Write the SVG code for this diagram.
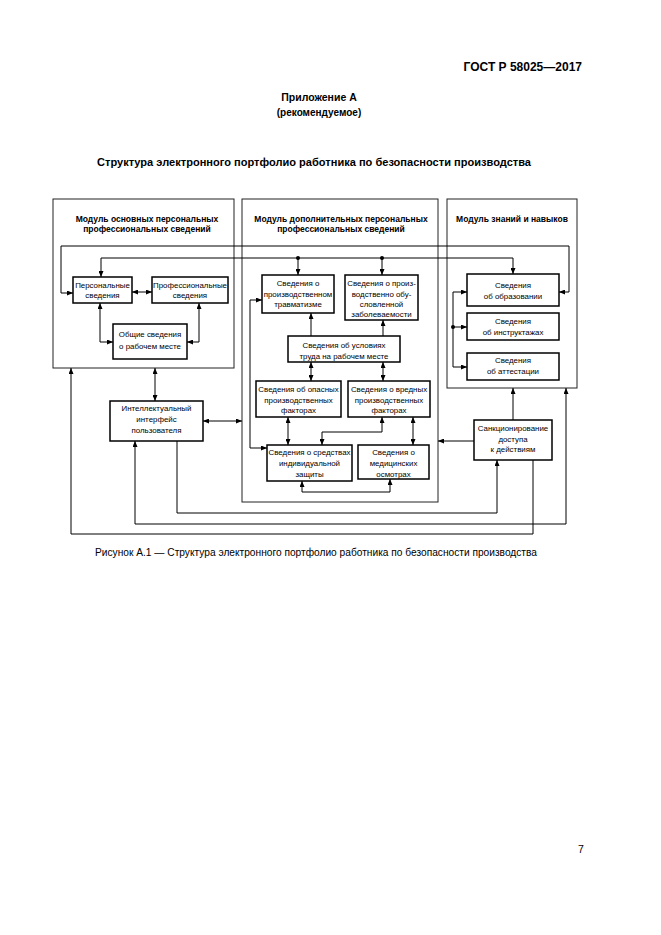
<svg xmlns="http://www.w3.org/2000/svg" width="661" height="935" viewBox="0 0 661 935">
<style>
text{font-family:"Liberation Sans",Arial,sans-serif;fill:#000}
.hd{font-weight:bold}
.mt{font-size:8.5px;font-weight:bold;text-anchor:middle}
.bt{font-size:7.9px;text-anchor:middle}
.mod{fill:#fff;stroke:#222;stroke-width:1}
.box{fill:#fff;stroke:#000;stroke-width:1.5}
.c{fill:none;stroke:#000;stroke-width:1}
.bi{marker-start:url(#a);marker-end:url(#a)}
.one{marker-end:url(#a)}
</style>
<defs>
<marker id="a" viewBox="0 0 10 10" refX="10" refY="5" markerWidth="6" markerHeight="5" markerUnits="userSpaceOnUse" orient="auto-start-reverse" preserveAspectRatio="none"><path d="M0,0 L10,5 L0,10 z" fill="#000"/></marker>
</defs>
<rect width="661" height="935" fill="#fff"/>

<text class="hd" x="582" y="71" font-size="12" text-anchor="end">ГОСТ Р 58025—2017</text>
<text class="hd" x="319" y="101" font-size="10.5" text-anchor="middle">Приложение А</text>
<text class="hd" x="319" y="116" font-size="10" text-anchor="middle">(рекомендуемое)</text>
<text class="hd" x="314" y="166" font-size="11" text-anchor="middle" textLength="434" lengthAdjust="spacingAndGlyphs">Структура электронного портфолио работника по безопасности производства</text>

<g id="modules">
<g id="mod-left"><rect class="mod" x="53" y="199" width="181" height="169"/>
<text class="mt" x="147" y="222">Модуль основных персональных</text>
<text class="mt" x="147" y="232">профессиональных сведений</text></g>
<g id="mod-mid"><rect class="mod" x="242" y="199" width="196" height="303"/>
<text class="mt" x="341" y="222">Модуль дополнительных персональных</text>
<text class="mt" x="341" y="232">профессиональных сведений</text></g>
<g id="mod-right"><rect class="mod" x="447" y="199" width="130" height="189"/>
<text class="mt" x="512" y="222">Модуль знаний и навыков</text></g>
</g>

<g id="connectors">
<path class="c bi" d="M73,293 H61 V246 H569 V292 H559"/>
<path class="c bi" d="M101,277 V258 H513 V274"/>
<path class="c one" d="M298,258 V275"/>
<path class="c one" d="M382,258 V275"/>
<circle cx="298" cy="258" r="2" fill="#000"/>
<circle cx="382" cy="258" r="2" fill="#000"/>
<path class="c bi" d="M132,292 H152"/>
<path class="c bi" d="M100,303 V342 H113"/>
<path class="c bi" d="M199,303 V342 H187"/>
<path class="c bi" d="M155,368 V401"/>
<path class="c bi" d="M203,421 H242"/>
<path class="c one" d="M177,441 V513 H497 V460"/>
<path class="c bi" d="M135,441 V524 H566 V388"/>
<path class="c one" d="M533,460 V534 H71 V368"/>
<path class="c one" d="M513,420 V388"/>
<path class="c one" d="M474,441 H438"/>
<path class="c bi" d="M262,300 H250 V448 H267"/>
<path class="c one" d="M311,336 V313"/>
<path class="c one" d="M383,336 V320"/>
<path class="c bi" d="M311,362 V381"/>
<path class="c bi" d="M383,362 V381"/>
<path class="c bi" d="M288,417 V445"/>
<path class="c bi" d="M382,417 V432 H322 V445"/>
<path class="c bi" d="M413,417 V445"/>
<path class="c bi" d="M302,481 V492 H390 V479"/>
<path class="c bi" d="M467,292 H453 V367 H467"/>
<path class="c one" d="M453,327 H467"/>
<circle cx="453" cy="327" r="2" fill="#000"/>
</g>

<g id="n-pers"><rect class="box" x="73" y="277" width="59" height="26"/>
<text class="bt" x="102.5" y="287.5">Персональные</text><text class="bt" x="102.5" y="298">сведения</text></g>
<g id="n-prof"><rect class="box" x="152" y="277" width="76" height="26"/>
<text class="bt" x="190" y="287.5">Профессиональные</text><text class="bt" x="190" y="298">сведения</text></g>
<g id="n-obsh"><rect class="box" x="113" y="324" width="74" height="35"/>
<text class="bt" x="150" y="337">Общие сведения</text><text class="bt" x="150" y="349">о рабочем месте</text></g>

<g id="n-travm"><rect class="box" x="262" y="275" width="72" height="38"/>
<text class="bt" x="298" y="286">Сведения о</text><text class="bt" x="298" y="296.5">производственном</text><text class="bt" x="298" y="307">травматизме</text></g>
<g id="n-zabol"><rect class="box" x="345" y="275" width="73" height="45"/>
<text class="bt" x="381.5" y="286">Сведения о произ-</text><text class="bt" x="381.5" y="296.5">водственно обу-</text><text class="bt" x="381.5" y="307">словленной</text><text class="bt" x="381.5" y="317">заболеваемости</text></g>
<g id="n-uslov"><rect class="box" x="288" y="336" width="112" height="26"/>
<text class="bt" x="344" y="348">Сведения об условиях</text><text class="bt" x="344" y="358.5">труда на рабочем месте</text></g>
<g id="n-opas"><rect class="box" x="256" y="381" width="85" height="36"/>
<text class="bt" x="298.5" y="391.5">Сведения об опасных</text><text class="bt" x="298.5" y="402.5">производственных</text><text class="bt" x="298.5" y="413">факторах</text></g>
<g id="n-vred"><rect class="box" x="348" y="381" width="82" height="36"/>
<text class="bt" x="389" y="391.5">Сведения о вредных</text><text class="bt" x="389" y="402.5">производственных</text><text class="bt" x="389" y="413">факторах</text></g>
<g id="n-sredst"><rect class="box" x="267" y="445" width="85" height="36"/>
<text class="bt" x="309.5" y="455">Сведения о средствах</text><text class="bt" x="309.5" y="466">индивидуальной</text><text class="bt" x="309.5" y="476.5">защиты</text></g>
<g id="n-med"><rect class="box" x="358" y="445" width="71" height="34"/>
<text class="bt" x="393.5" y="455">Сведения о</text><text class="bt" x="393.5" y="466">медицинских</text><text class="bt" x="393.5" y="476.5">осмотрах</text></g>

<g id="n-obraz"><rect class="box" x="467" y="274" width="92" height="32"/>
<text class="bt" x="513" y="288">Сведения</text><text class="bt" x="513" y="298.5">об образовании</text></g>
<g id="n-instr"><rect class="box" x="467" y="313" width="92" height="27"/>
<text class="bt" x="513" y="324">Сведения</text><text class="bt" x="513" y="334.5">об инструктажах</text></g>
<g id="n-attest"><rect class="box" x="467" y="353" width="92" height="27"/>
<text class="bt" x="513" y="363">Сведения</text><text class="bt" x="513" y="374">об аттестации</text></g>

<g id="n-intel"><rect class="box" x="110" y="401" width="93" height="40"/>
<text class="bt" x="156.5" y="411">Интеллектуальный</text><text class="bt" x="156.5" y="421.5">интерфейс</text><text class="bt" x="156.5" y="432.5">пользователя</text></g>
<g id="n-sankc"><rect class="box" x="474" y="420" width="78" height="40"/>
<text class="bt" x="513" y="431">Санкционирование</text><text class="bt" x="513" y="441.5">доступа</text><text class="bt" x="513" y="452">к действиям</text></g>

<text x="316" y="556" font-size="10" text-anchor="middle" textLength="442" lengthAdjust="spacingAndGlyphs">Рисунок А.1 — Структура электронного портфолио работника по безопасности производства</text>
<text x="578" y="853" font-size="10.5">7</text>
</svg>
